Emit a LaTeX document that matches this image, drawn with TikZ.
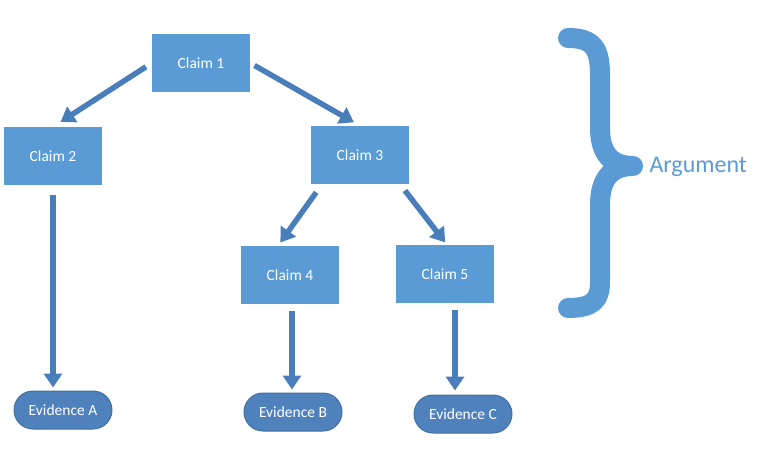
\documentclass[tikz,border=0pt]{standalone}
\usepackage{fontspec}
\setmainfont{Carlito}
\usetikzlibrary{arrows.meta,positioning}
\definecolor{claimblue}{HTML}{5B9BD5}
\definecolor{evblue}{HTML}{4F81BD}
\definecolor{evedge}{HTML}{41719C}
\definecolor{arrblue}{HTML}{4A7EBB}

\begin{document}
\begin{tikzpicture}[x=1pt,y=-1pt,line cap=round,line join=round,
  claim/.style={fill=claimblue,text=white,minimum width=98pt,minimum height=58pt,inner sep=0pt,font=\fontsize{15.5}{18}\selectfont},
  evidence/.style={fill=evblue,draw=evedge,line width=1pt,text=white,rounded corners=19pt,minimum width=98pt,minimum height=38pt,inner sep=0pt,font=\fontsize{15.5}{18}\selectfont},
  arr/.style={draw=arrblue,line width=5.5pt,line cap=butt,-{Triangle[length=14pt,width=18pt]}}]
\path[use as bounding box] (0,0) rectangle (761,466);
\node[claim] (claim1) at (201,63) {Claim 1};
\node[claim] (claim2) at (53,156) {Claim 2};
\node[claim] (claim3) at (360,155) {Claim 3};
\node[claim] (claim4) at (290,275) {Claim 4};
\node[claim] (claim5) at (445,274) {Claim 5};
\node[evidence] (evA) at (63,410) {Evidence A};
\node[evidence] (evB) at (293,412) {Evidence B};
\node[evidence] (evC) at (463,414) {Evidence C};
\draw[arr,shorten <=7pt,shorten >=9pt] (claim1.west) -- (claim2.north);
\draw[arr,shorten <=5pt,shorten >=7pt] (claim1.east) -- (claim3.north);
\draw[arr,shorten <=10pt,shorten >=3pt] (claim2.south) -- (claim2.south |- evA.north);
\draw[arr,shorten <=10pt,shorten >=4pt] ([xshift=-38pt]claim3.south) -- ([xshift=-12pt]claim4.north);
\draw[arr,shorten <=8pt,shorten >=3pt] ([xshift=40pt]claim3.south) -- ([xshift=2pt]claim5.north);
\draw[arr,shorten <=7pt,shorten >=3pt] ([xshift=2pt]claim4.south) -- ([xshift=2pt]claim4.south |- evB.north);
\draw[arr,shorten <=7pt,shorten >=4pt] ([xshift=10pt]claim5.south) -- ([xshift=10pt]claim5.south |- evC.north);
% brace
\coordinate (tip) at (633,166);
\draw[claimblue,line width=20pt] (568,38) .. controls (593,38) and (600,48) .. (600,75) -- (600,128)
  .. controls (600,152) and (610,166) .. (tip)
  .. controls (610,166) and (600,180) .. (600,205) -- (600,282)
  .. controls (600,300) and (593,308) .. (568,308);
\node[text=claimblue,font=\fontsize{24}{28}\selectfont,anchor=west] (arg) at (646,167) {Argument};
\end{tikzpicture}
\end{document}
